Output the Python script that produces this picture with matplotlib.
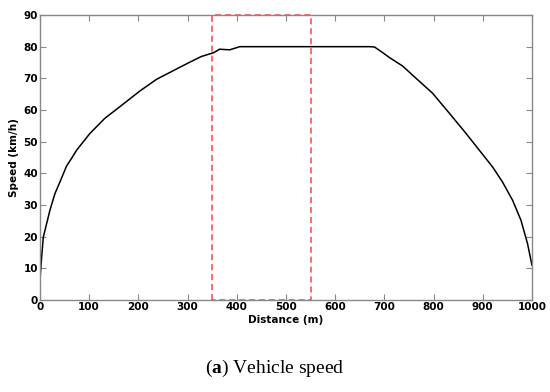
import matplotlib
matplotlib.use("Agg")
import matplotlib.pyplot as plt

# Vehicle speed profile
distance = [0, 3.4, 6.8, 13.5, 20.3, 30.4, 40.6, 54, 67.7, 74.4, 101.5, 132,
            162, 203, 237, 270.6, 304.5, 328, 353, 365, 385.6, 406, 500, 600,
            670, 680, 695, 710, 737, 764.5, 798, 832, 866, 893, 920, 940, 960.6,
            977.6, 991, 1000]
speed = [6.5, 13.6, 19.9, 24.1, 28.4, 33.6, 37.3, 42.3, 45.6, 47.3, 52.6, 57.4,
         61, 66, 69.7, 72.4, 75.1, 76.9, 78.1, 79.2, 79, 80, 80, 80,
         80, 79.9, 78.3, 76.6, 73.9, 70, 65.3, 59, 52.6, 47.3, 42, 37.3, 31.5,
         25.2, 17.8, 11]

# highlighted section
box_x = [350, 550]
box_y = [0, 90]

xticks = list(range(0, 1001, 100))
yticks = list(range(0, 91, 10))

plt.rcParams['mathtext.fontset'] = 'custom'
plt.rcParams['mathtext.bf'] = 'Liberation Serif:bold'
plt.rcParams['mathtext.rm'] = 'Liberation Serif'

fig = plt.figure(figsize=(5.5, 3.92), dpi=100, facecolor="w")
ax = fig.add_axes([0.0727, 0.2347, 0.8945, 0.727])

ax.plot(distance, speed, color='black', lw=1.1)
ax.plot([box_x[0], box_x[0], box_x[1], box_x[1], box_x[0]],
        [box_y[0], box_y[1], box_y[1], box_y[0], box_y[0]],
        ls='--', color='#ff4444', lw=1.1, dashes=(4, 2.5), clip_on=False)

ax.set_xlim(0, 1000)
ax.set_ylim(0, 90)
ax.set_xticks(xticks)
ax.set_yticks(yticks)
ax.tick_params(direction='in', top=True, right=True, length=4, width=0.8,
               color='#888888', labelsize=7.5, pad=1.5)
for lab in ax.get_xticklabels() + ax.get_yticklabels():
    lab.set_fontweight('bold')
for s in ax.spines.values():
    s.set_color('#888888')
    s.set_linewidth(1.0)

ax.set_xlabel('Distance (m)', fontsize=7.5, fontweight='bold', labelpad=2)
ax.set_ylabel('Speed (km/h)', fontsize=7.5, fontweight='bold', labelpad=3)

fig.text(0.5, 0.06, r'($\mathbf{a}$) Vehicle speed', ha='center', va='center',
         fontsize=14, family='Liberation Serif')

plt.savefig("out.png", dpi=100, facecolor="w")
